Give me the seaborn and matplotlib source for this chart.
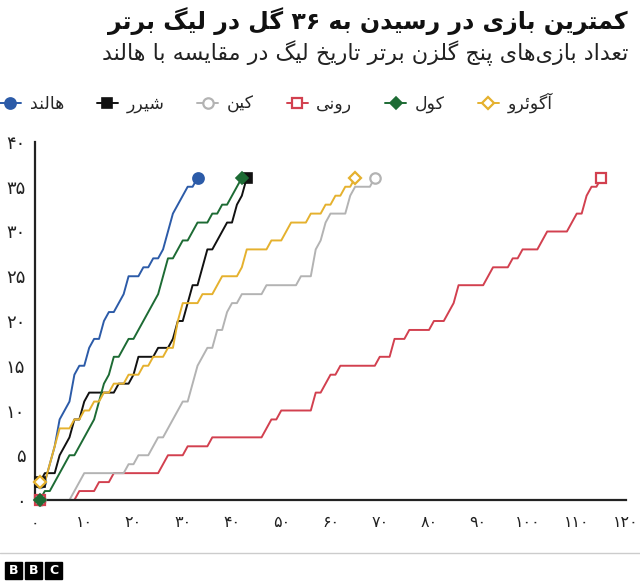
import re
import numpy as np
import pandas as pd
import matplotlib
matplotlib.use("Agg")
import matplotlib.pyplot as plt
import seaborn as sns
from matplotlib.lines import Line2D

# ---------------- data (cumulative league goals after each game) ----------------
players = ["هالند", "شیرر", "کین", "رونی", "کول", "آگوئرو"]
colors = ["#2c5ba8", "#111111", "#b3b3b3", "#d2404f", "#1d6b34", "#e5b12e"]

haaland_goals = [2, 2, 4, 6, 9, 10, 11, 14, 15, 15, 17, 18, 18, 20, 21, 21, 22, 23, 25, 25,
                 25, 26, 26, 27, 27, 28, 30, 32, 33, 34, 35, 35, 36]
shearer_goals = [2, 3, 3, 3, 5, 6, 7, 9, 9, 11, 12, 12, 12, 12, 12, 12, 13, 13, 13, 14,
                 16, 16, 16, 16, 17, 17, 17, 18, 20, 20, 22, 24, 24, 26, 28, 28, 29, 30, 31, 31,
                 33, 34, 36]
kane_goals = [0, 0, 0, 0, 0, 0, 0, 1, 2, 3, 3, 3, 3, 3, 3, 3, 3, 3, 4, 4,
              5, 5, 5, 6, 7, 7, 8, 9, 10, 11, 11, 13, 15, 16, 17, 17, 19, 19, 21, 22,
              22, 23, 23, 23, 23, 23, 24, 24, 24, 24, 24, 24, 24, 25, 25, 25, 28, 29, 31, 32,
              32, 32, 32, 34, 35, 35, 35, 35, 36]
rooney_goals = [0, 0, 0, 0, 0, 0, 0, 0, 1, 1, 1, 1, 2, 2, 2, 3, 3, 3, 3, 3,
                3, 3, 3, 3, 3, 4, 5, 5, 5, 5, 6, 6, 6, 6, 6, 7, 7, 7, 7, 7,
                7, 7, 7, 7, 7, 7, 8, 9, 9, 10, 10, 10, 10, 10, 10, 10, 12, 12, 13, 14,
                14, 15, 15, 15, 15, 15, 15, 15, 15, 16, 16, 16, 18, 18, 18, 19, 19, 19, 19, 19,
                20, 20, 20, 21, 22, 24, 24, 24, 24, 24, 24, 25, 26, 26, 26, 26, 27, 27, 28, 28,
                28, 28, 29, 30, 30, 30, 30, 30, 31, 32, 32, 34, 35, 35, 36]
cole_goals = [0, 1, 1, 2, 3, 4, 5, 5, 6, 7, 8, 9, 11, 13, 14, 16, 16, 17, 18, 18,
              19, 20, 21, 22, 23, 25, 27, 27, 28, 29, 29, 30, 31, 31, 31, 32, 32, 33, 33, 34,
              35, 36]
aguero_goals = [2, 2, 4, 6, 8, 8, 8, 9, 9, 10, 10, 11, 11, 12, 12, 13, 13, 13, 14, 14,
                14, 15, 15, 16, 16, 16, 17, 17, 20, 22, 22, 22, 22, 23, 23, 23, 24, 25, 25, 25,
                25, 26, 28, 28, 28, 28, 28, 29, 29, 29, 30, 31, 31, 31, 31, 32, 32, 32, 33, 33,
                34, 34, 35, 35, 36]

x_ticks = [0, 10, 20, 30, 40, 50, 60, 70, 80, 90, 100, 110, 120]
y_ticks = [0, 5, 10, 15, 20, 25, 30, 35, 40]

title = "کمترین بازی در رسیدن به ۳۶ گل در لیگ برتر"
subtitle = "تعداد بازی‌های پنج گلزن برتر تاریخ لیگ در مقایسه با هالند"

# ---------------- Persian shaping helpers ----------------
FORMS = {  # isolated, final, initial, medial
    "\u0627": ("\uFE8D", "\uFE8E", None, None),
    "\u0622": ("\uFE81", "\uFE82", None, None),
    "\u0628": ("\uFE8F", "\uFE90", "\uFE91", "\uFE92"),
    "\u067E": ("\uFB56", "\uFB57", "\uFB58", "\uFB59"),
    "\u062A": ("\uFE95", "\uFE96", "\uFE97", "\uFE98"),
    "\u062B": ("\uFE99", "\uFE9A", "\uFE9B", "\uFE9C"),
    "\u062C": ("\uFE9D", "\uFE9E", "\uFE9F", "\uFEA0"),
    "\u0686": ("\uFB7A", "\uFB7B", "\uFB7C", "\uFB7D"),
    "\u062D": ("\uFEA1", "\uFEA2", "\uFEA3", "\uFEA4"),
    "\u062E": ("\uFEA5", "\uFEA6", "\uFEA7", "\uFEA8"),
    "\u062F": ("\uFEA9", "\uFEAA", None, None),
    "\u0630": ("\uFEAB", "\uFEAC", None, None),
    "\u0631": ("\uFEAD", "\uFEAE", None, None),
    "\u0632": ("\uFEAF", "\uFEB0", None, None),
    "\u0698": ("\uFB8A", "\uFB8B", None, None),
    "\u0633": ("\uFEB1", "\uFEB2", "\uFEB3", "\uFEB4"),
    "\u0634": ("\uFEB5", "\uFEB6", "\uFEB7", "\uFEB8"),
    "\u0635": ("\uFEB9", "\uFEBA", "\uFEBB", "\uFEBC"),
    "\u0636": ("\uFEBD", "\uFEBE", "\uFEBF", "\uFEC0"),
    "\u0637": ("\uFEC1", "\uFEC2", "\uFEC3", "\uFEC4"),
    "\u0638": ("\uFEC5", "\uFEC6", "\uFEC7", "\uFEC8"),
    "\u0639": ("\uFEC9", "\uFECA", "\uFECB", "\uFECC"),
    "\u063A": ("\uFECD", "\uFECE", "\uFECF", "\uFED0"),
    "\u0641": ("\uFED1", "\uFED2", "\uFED3", "\uFED4"),
    "\u0642": ("\uFED5", "\uFED6", "\uFED7", "\uFED8"),
    "\u06A9": ("\uFB8E", "\uFB8F", "\uFB90", "\uFB91"),
    "\u06AF": ("\uFB92", "\uFB93", "\uFB94", "\uFB95"),
    "\u0644": ("\uFEDD", "\uFEDE", "\uFEDF", "\uFEE0"),
    "\u0645": ("\uFEE1", "\uFEE2", "\uFEE3", "\uFEE4"),
    "\u0646": ("\uFEE5", "\uFEE6", "\uFEE7", "\uFEE8"),
    "\u0647": ("\uFEE9", "\uFEEA", "\uFEEB", "\uFEEC"),
    "\u0648": ("\uFEED", "\uFEEE", None, None),
    "\u06CC": ("\uFBFC", "\uFBFD", "\uFBFE", "\uFBFF"),
    "\u0626": ("\uFE89", "\uFE8A", "\uFE8B", "\uFE8C"),
}
DIGITS = "0123456789\u06F0\u06F1\u06F2\u06F3\u06F4\u06F5\u06F6\u06F7\u06F8\u06F9"


def _joins_forward(c):
    f = FORMS.get(c)
    return f is not None and f[2] is not None


def shape(text):
    res = []
    n = len(text)
    for i, c in enumerate(text):
        if c not in FORMS:
            res.append(c)
            continue
        prev = text[i - 1] if i > 0 else None
        nxt = text[i + 1] if i + 1 < n else None
        cp = prev is not None and _joins_forward(prev)
        cn = _joins_forward(c) and nxt is not None and nxt in FORMS
        iso, fin, ini, med = FORMS[c]
        if cp and cn:
            res.append(med)
        elif cp:
            res.append(fin)
        elif cn:
            res.append(ini)
        else:
            res.append(iso)
    return "".join(res).replace("\u200c", "")


def rtl(text):
    s = shape(text)
    parts = re.findall("[" + DIGITS + "]+|[^" + DIGITS + "]+", s)
    return "".join(p if p[0] in DIGITS else p[::-1] for p in reversed(parts))


def fa(n):
    return str(n).translate(str.maketrans("0123456789", "۰۱۲۳۴۵۶۷۸۹"))


# ---------------- build data frame ----------------
series = {
    "هالند": haaland_goals,
    "شیرر": shearer_goals,
    "کین": kane_goals,
    "رونی": rooney_goals,
    "کول": cole_goals,
    "آگوئرو": aguero_goals,
}
rows = []
for p, vals in series.items():
    for g, v in enumerate(vals, start=1):
        rows.append({"player": p, "game": g, "goals": v})
df = pd.DataFrame(rows)
palette = dict(zip(players, colors))

# ---------------- plot ----------------
sns.set_theme(style="white")
plt.rcParams["font.family"] = ["DejaVu Sans"]

fig = plt.figure(figsize=(6.4, 5.83), dpi=100)
ax = fig.add_axes([35 / 640, (583 - 500) / 583, (626 - 35) / 640, (500 - 142) / 583])

draw_order = ["رونی", "کین", "هالند", "شیرر", "کول", "آگوئرو"]
sns.lineplot(data=df, x="game", y="goals", hue="player", hue_order=draw_order,
             palette=palette, estimator=None, legend=False, linewidth=1.4, ax=ax)

marker_style = {
    "هالند": dict(marker="o", ms=8, mfc=palette["هالند"], mec=palette["هالند"], mew=1.2),
    "شیرر": dict(marker="s", ms=7.5, mfc=palette["شیرر"], mec=palette["شیرر"], mew=1.2),
    "کین": dict(marker="o", ms=7.5, mfc="white", mec=palette["کین"], mew=1.6),
    "رونی": dict(marker="s", ms=7.5, mfc="white", mec=palette["رونی"], mew=1.6),
    "کول": dict(marker="D", ms=6.5, mfc=palette["کول"], mec=palette["کول"], mew=1.2),
    "آگوئرو": dict(marker="D", ms=6.5, mfc="white", mec=palette["آگوئرو"], mew=1.6),
}
marker_order = ["کین", "هالند", "رونی", "شیرر", "کول", "آگوئرو"]
for z, p in enumerate(marker_order):
    d = df[df.player == p]
    ends = d.iloc[[0, -1]]
    ax.plot(ends["game"], ends["goals"], ls="none", zorder=5 + z, clip_on=False, **marker_style[p])

ax.set_xlim(0, 120)
ax.set_ylim(0, 40)
ax.set_xticks(x_ticks)
ax.set_xticklabels([fa(t) for t in x_ticks], fontsize=11.5, color="#222222")
ax.set_yticks(y_ticks)
ax.set_yticklabels([fa(t) for t in y_ticks], fontsize=13, color="#222222")
ax.tick_params(axis="both", length=0)
ax.tick_params(axis="x", pad=11)
ax.tick_params(axis="y", pad=7)
ax.set_xlabel("")
ax.set_ylabel("")
for s in ["top", "right"]:
    ax.spines[s].set_visible(False)
for s in ["left", "bottom"]:
    ax.spines[s].set_color("#222222")
    ax.spines[s].set_linewidth(1.6)
ax.grid(False)

# legend
handles = [Line2D([0], [0], color=palette[p], lw=1.4, **marker_style[p]) for p in players]
fig.legend(handles, [rtl(p) for p in players], loc="center left", ncol=6,
           bbox_to_anchor=(0.0, 1 - 103 / 583), frameon=False, fontsize=12.5,
           handlelength=1.2, columnspacing=1.9, markerfirst=True, handletextpad=0.5,
           borderaxespad=0.0, borderpad=0.0)

# titles
fig.text(628 / 640, 1 - 21 / 583, rtl(title), ha="right", va="center",
         fontsize=17, fontweight="bold", color="#111111")
fig.text(628 / 640, 1 - 53 / 583, rtl(subtitle), ha="right", va="center",
         fontsize=16, color="#222222")

# footer
fig.add_artist(Line2D([0, 1], [1 - 553 / 583, 1 - 553 / 583], color="#cccccc", lw=1))
for i, letter in enumerate(["B", "B", "C"]):
    x0 = (5 + i * 20) / 640
    fig.patches.append(plt.Rectangle((x0, 1 - 579 / 583), 17 / 640, 17 / 583,
                                     transform=fig.transFigure, color="black"))
    fig.text(x0 + 8.5 / 640, 1 - 570.5 / 583, letter, ha="center", va="center",
             color="white", fontsize=9, fontweight="bold")

fig.savefig("out.png", dpi=100)
